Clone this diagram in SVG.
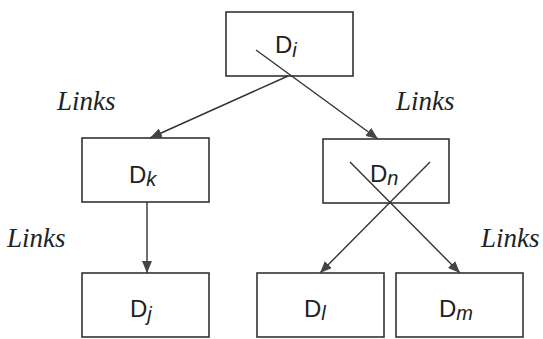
<svg xmlns="http://www.w3.org/2000/svg" width="543" height="339" viewBox="0 0 543 339">
<defs>
<marker id="ah" viewBox="0 0 12 10" refX="12" refY="5" markerWidth="12" markerHeight="10" markerUnits="userSpaceOnUse" orient="auto">
<path d="M0,0 L12,5 L0,10 Z" fill="#444"/>
</marker>
<style>
.box{fill:#fff;stroke:#333;stroke-width:1.6}
.lbl{font-family:"Liberation Sans",Arial,sans-serif;font-size:24px;fill:#222}
.sub{font-style:italic;font-size:20px}
.lk{font-family:"Liberation Serif","Times New Roman",serif;font-style:italic;font-size:27px;fill:#222}
.c{stroke:#333;stroke-width:1.4;fill:none}
</style>
</defs>
<rect width="543" height="339" fill="#fff"/>
<g id="Di"><rect class="box" x="226" y="12" width="127" height="64"/><text class="lbl" x="275" y="53">D<tspan class="sub" dy="4">i</tspan></text></g>
<g id="Dk"><rect class="box" x="82" y="138" width="127" height="64"/><text class="lbl" x="129" y="183">D<tspan class="sub" dy="3">k</tspan></text></g>
<g id="Dn"><rect class="box" x="323" y="139" width="126" height="64"/><text class="lbl" x="370" y="182">D<tspan class="sub" dy="3">n</tspan></text></g>
<g id="Dj"><rect class="box" x="82" y="273" width="127" height="64"/><text class="lbl" x="130" y="317">D<tspan class="sub" dy="4">j</tspan></text></g>
<g id="Dl"><rect class="box" x="257" y="273" width="127" height="64"/><text class="lbl" x="304" y="317">D<tspan class="sub" dy="3">l</tspan></text></g>
<g id="Dm"><rect class="box" x="396" y="273" width="127" height="64"/><text class="lbl" x="439" y="317">D<tspan class="sub" dy="3">m</tspan></text></g>
<g id="connectors">
<line class="c" x1="288" y1="76" x2="150" y2="138" marker-end="url(#ah)"/>
<line class="c" x1="256" y1="50" x2="378" y2="139" marker-end="url(#ah)"/>
<line class="c" x1="147" y1="202" x2="147" y2="273" marker-end="url(#ah)"/>
<line class="c" x1="350" y1="162" x2="460" y2="273" marker-end="url(#ah)"/>
<line class="c" x1="430" y1="162" x2="320" y2="273" marker-end="url(#ah)"/>
</g>
<g id="labels">
<text class="lk" x="57" y="110">Links</text>
<text class="lk" x="396" y="110">Links</text>
<text class="lk" x="7" y="247">Links</text>
<text class="lk" x="481" y="247">Links</text>
</g>
</svg>
